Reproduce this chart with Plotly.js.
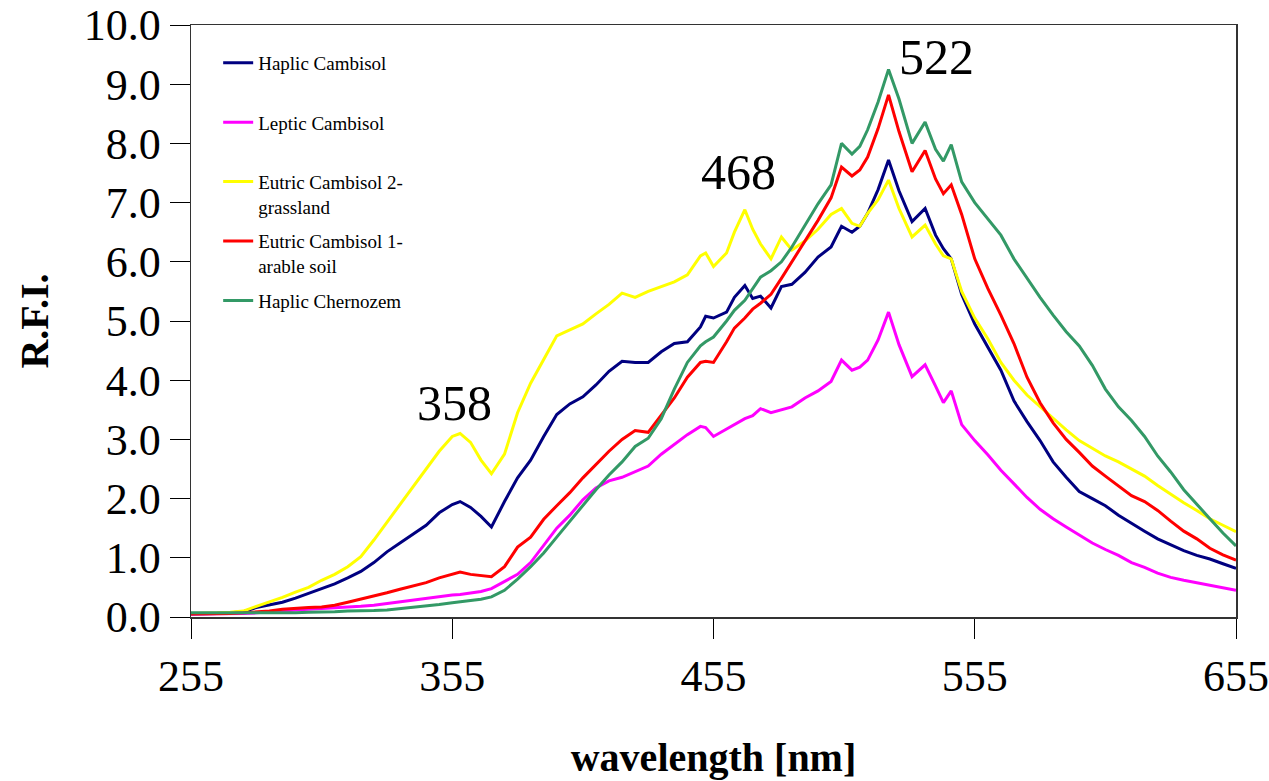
<!DOCTYPE html>
<html>
<head>
<meta charset="utf-8">
<script src="https://cdn.plot.ly/plotly-3.0.1.min.js"></script>
<style>html,body{margin:0;padding:0;background:#fff;}#chart{width:1269px;height:781px;}</style>
</head>
<body>
<div id="chart"></div>
<script>
const wavelength = [255,260,265,270,275,280,285,290,295,300,305,310,315,320,325,330,335,340,345,350,355,358,362,366,370,375,380,385,390,395,400,405,410,415,420,425,430,435,440,445,450,452,455,460,463,467,470,473,477,481,485,490,495,500,504,508,511,514,518,522,526,531,536,540,543,546,550,555,560,565,570,575,580,585,590,595,600,605,610,615,620,625,630,635,640,645,650,655];

const haplicCambisol = [0.05,0.05,0.06,0.07,0.09,0.16,0.20,0.25,0.32,0.40,0.48,0.56,0.66,0.77,0.92,1.10,1.25,1.40,1.55,1.76,1.90,1.95,1.85,1.70,1.52,1.95,2.35,2.65,3.05,3.42,3.60,3.72,3.92,4.15,4.32,4.30,4.30,4.48,4.62,4.65,4.90,5.08,5.05,5.15,5.40,5.60,5.38,5.42,5.22,5.58,5.62,5.82,6.08,6.25,6.60,6.50,6.60,6.82,7.22,7.72,7.20,6.68,6.90,6.45,6.22,6.05,5.45,4.95,4.55,4.17,3.65,3.30,2.98,2.62,2.36,2.12,2.00,1.88,1.72,1.58,1.45,1.32,1.22,1.12,1.04,0.98,0.90,0.82];

const lepticCambisol = [0.05,0.05,0.05,0.06,0.06,0.07,0.08,0.10,0.12,0.13,0.15,0.16,0.17,0.18,0.20,0.23,0.26,0.29,0.32,0.35,0.37,0.38,0.40,0.43,0.48,0.60,0.72,0.92,1.22,1.50,1.72,1.98,2.18,2.30,2.36,2.45,2.55,2.75,2.92,3.08,3.22,3.20,3.05,3.18,3.25,3.35,3.40,3.52,3.45,3.50,3.55,3.70,3.82,3.98,4.34,4.17,4.22,4.34,4.68,5.15,4.60,4.06,4.26,3.90,3.62,3.82,3.25,2.98,2.74,2.48,2.25,2.02,1.82,1.66,1.52,1.38,1.25,1.14,1.04,0.92,0.84,0.74,0.67,0.62,0.58,0.53,0.49,0.45];

const eutric2Grassland = [0.06,0.06,0.07,0.08,0.10,0.18,0.25,0.33,0.42,0.50,0.62,0.72,0.85,1.02,1.30,1.60,1.90,2.20,2.48,2.80,3.05,3.10,2.95,2.65,2.42,2.75,3.45,3.95,4.35,4.75,4.85,4.95,5.12,5.28,5.47,5.40,5.50,5.58,5.66,5.78,6.10,6.15,5.92,6.15,6.50,6.88,6.55,6.30,6.05,6.42,6.20,6.35,6.55,6.80,6.90,6.65,6.60,6.82,7.05,7.38,6.90,6.42,6.62,6.30,6.10,6.05,5.50,5.05,4.70,4.30,4.00,3.75,3.55,3.35,3.16,2.98,2.85,2.72,2.62,2.50,2.38,2.22,2.07,1.93,1.80,1.66,1.55,1.44];

const eutric1Arable = [0.05,0.05,0.05,0.06,0.07,0.08,0.10,0.13,0.15,0.16,0.17,0.20,0.25,0.30,0.35,0.41,0.47,0.52,0.58,0.66,0.72,0.76,0.72,0.70,0.68,0.85,1.18,1.35,1.65,1.88,2.10,2.35,2.58,2.80,3.00,3.15,3.12,3.40,3.70,4.05,4.30,4.32,4.30,4.65,4.88,5.05,5.20,5.30,5.45,5.72,6.00,6.35,6.70,7.08,7.60,7.45,7.55,7.77,8.25,8.82,8.20,7.52,7.88,7.40,7.15,7.30,6.80,6.05,5.55,5.10,4.62,4.05,3.62,3.28,3.00,2.78,2.55,2.38,2.22,2.05,1.95,1.80,1.62,1.45,1.32,1.16,1.05,0.96];

const haplicChernozem = [0.07,0.07,0.07,0.07,0.07,0.06,0.06,0.07,0.07,0.08,0.08,0.09,0.10,0.10,0.11,0.12,0.14,0.16,0.18,0.21,0.24,0.26,0.28,0.30,0.34,0.45,0.64,0.85,1.08,1.35,1.62,1.88,2.15,2.40,2.62,2.88,3.02,3.35,3.85,4.30,4.58,4.65,4.73,5.00,5.18,5.35,5.55,5.74,5.85,6.00,6.25,6.62,6.98,7.30,8.00,7.82,7.95,8.23,8.70,9.25,8.75,8.00,8.36,7.90,7.70,7.98,7.35,7.00,6.72,6.45,6.05,5.72,5.40,5.10,4.82,4.58,4.25,3.85,3.55,3.32,3.05,2.72,2.45,2.15,1.90,1.66,1.42,1.20];

const seriesNames = ["Haplic Cambisol<br> ", "Leptic Cambisol<br> ", "Eutric Cambisol 2-<br>grassland", "Eutric Cambisol 1-<br>arable soil", "Haplic Chernozem"];
const seriesColors = ["#000080", "#FF00FF", "#FFFF00", "#FF0000", "#339966"];
const seriesValues = [haplicCambisol, lepticCambisol, eutric2Grassland, eutric1Arable, haplicChernozem];

const peakLabels = ["358", "468", "522"];
const peakLabelX = [356, 464.5, 540.5];
const peakLabelY = [3.62, 7.52, 9.46];

const yTickVals = [0,1,2,3,4,5,6,7,8,9,10];
const xTickVals = [255,355,455,555,655];

const FONT = "Liberation Serif";

const traces = seriesValues.map((vals, i) => ({
  x: wavelength,
  y: vals,
  type: "scatter",
  mode: "lines",
  name: seriesNames[i],
  line: {color: seriesColors[i], width: 3},
  legendgroup: "g" + i
}));

const layout = {
  width: 1269,
  height: 781,
  paper_bgcolor: "#ffffff",
  plot_bgcolor: "#ffffff",
  margin: {l: 191, r: 33, t: 25, b: 164},
  font: {family: FONT, color: "#000"},
  showlegend: true,
  legend: {
    x: 0.026, y: 0.968, xanchor: "left", yanchor: "top",
    bgcolor: "rgba(255,255,255,0)",
    font: {family: FONT, size: 19, color: "#000"},
    valign: "top",
    tracegroupgap: 7,
    itemwidth: 30
  },
  xaxis: {
    range: [255, 655],
    tickvals: xTickVals,
    ticktext: xTickVals.map(String),
    ticks: "outside", ticklen: 20, tickwidth: 1, tickcolor: "#000",
    showline: true, linecolor: "#333", linewidth: 1.5, mirror: true,
    showgrid: false, zeroline: false,
    tickfont: {family: FONT, size: 44, color: "#000"},
    title: {text: "<b>wavelength [nm]</b>", font: {family: FONT, size: 40, color: "#000"}, standoff: 42}
  },
  yaxis: {
    range: [0, 10],
    tickvals: yTickVals,
    ticktext: yTickVals.map(v => v.toFixed(1)),
    ticks: "outside", ticklen: 20, tickwidth: 1, tickcolor: "#000",
    showline: true, linecolor: "#333", linewidth: 1.5, mirror: true,
    showgrid: false, zeroline: false,
    tickfont: {family: FONT, size: 44, color: "#000"},
    title: {text: "<b>R.F.I.</b>", font: {family: FONT, size: 40, color: "#000"}, standoff: 22}
  },
  annotations: peakLabels.map((t, i) => ({
    x: peakLabelX[i], y: peakLabelY[i], xref: "x", yref: "y",
    text: t, showarrow: false,
    font: {family: FONT, size: 50, color: "#000"}
  }))
};

Plotly.newPlot("chart", traces, layout, {displayModeBar: false, staticPlot: true});
</script>
</body>
</html>
